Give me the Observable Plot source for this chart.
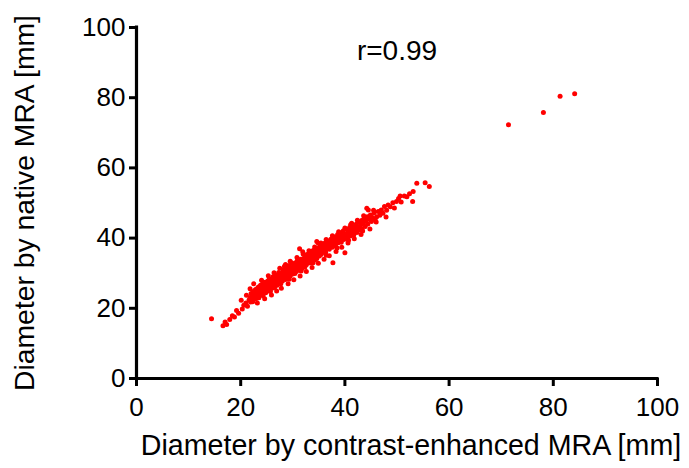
<!DOCTYPE html>
<html>
<head>
<meta charset="utf-8">
<script src="https://cdn.jsdelivr.net/npm/d3@7"></script>
<script src="https://cdn.jsdelivr.net/npm/@observablehq/plot@0.6"></script>
<style>
  html, body { margin: 0; padding: 0; background: #fff; }
</style>
</head>
<body>
<div id="chart"></div>
<script>
// Diameter by contrast-enhanced MRA [mm] (x) and by native MRA [mm] (y)
const ceMRA = [
  14.4,16.6,17.0,17.3,17.9,18.4,18.8,19.2,19.6,20.1,20.3,20.6,21.1,21.0,21.3,
  21.6,21.8,21.9,22.0,22.1,22.2,22.3,22.4,22.5,22.6,22.7,22.8,22.9,23.0,23.0,23.1,23.2,23.3,23.4,23.5,23.5,23.6,23.7,23.8,23.9,24.0,24.0,24.1,24.2,24.3,24.3,24.4,24.5,24.6,24.7,24.8,24.8,24.9,
  25.0,25.1,25.1,25.2,25.3,25.4,25.5,25.5,25.6,25.7,25.8,25.9,26.0,26.0,26.1,26.2,26.3,26.4,26.5,26.5,26.6,26.7,26.8,26.9,27.0,27.0,27.1,27.2,27.3,27.4,27.5,27.6,27.7,27.8,27.9,28.0,28.0,28.1,28.2,28.3,28.4,28.5,28.6,28.7,28.8,28.9,
  29.0,29.0,29.1,29.2,29.3,29.4,29.5,29.6,29.7,29.8,29.9,30.0,30.0,30.1,30.2,30.3,30.4,30.5,30.6,30.7,30.8,30.9,31.0,31.1,31.2,31.3,31.3,31.4,31.5,31.6,31.7,31.9,31.8,32.0,32.1,32.2,32.3,32.4,32.5,32.6,32.7,32.8,32.9,33.0,33.1,33.2,
  33.3,33.4,33.5,33.6,33.7,33.8,33.9,34.0,34.1,34.2,34.3,34.4,34.6,34.5,34.6,34.7,34.8,34.9,35.0,35.1,35.2,35.3,35.4,35.5,35.6,35.8,35.9,36.0,36.1,36.2,36.3,36.5,36.6,36.7,36.8,37.0,37.1,37.2,37.3,37.5,37.7,37.6,37.8,37.9,38.0,
  38.1,38.2,38.3,38.4,38.6,38.7,38.8,38.9,39.0,39.2,39.3,39.4,39.5,39.7,39.8,40.0,39.9,40.1,40.2,40.4,40.5,40.6,40.8,40.9,41.0,41.2,41.3,41.4,41.6,41.7,41.9,42.0,42.2,42.3,42.5,42.7,42.8,
  43.0,43.2,43.3,43.5,43.7,43.9,44.0,44.2,44.3,44.5,44.4,44.6,44.9,45.1,45.3,45.6,45.8,46.1,46.4,46.7,47.0,47.3,47.6,48.0,48.3,
  48.7,49.2,49.9,50.3,50.8,51.4,51.9,52.4,53.0,53.1,53.8,55.4,56.2,
  71.4,78.1,81.3,84.1,
  22.5,23.2,21.8,24.0,24.6,25.3,25.9,26.4,26.9,27.5,27.8,28.6,29.1,29.5,30.2,30.8,31.4,32.0,32.6,33.1,33.7,34.2,34.9,35.4,36.0,36.4,37.0,37.6,38.3,38.8,39.4,40.0,40.6,41.1,41.8,42.4,43.1,43.6,44.8,45.5,
  23.3,24.2,25.6,26.3,27.2,28.4,29.3,30.6,31.6,32.8,33.9,35.1,36.4,37.4,38.5,39.6,40.7,42.1,43.4,44.7,46.0,46.9,47.9,49.5,50.6
];
const nativeMRA = [
  17.0,15.0,16.1,15.4,16.8,17.9,17.5,19.4,18.6,22.3,19.8,20.9,23.7,21.5,20.6,
  22.4,23.1,21.8,24.2,22.9,23.6,21.9,24.8,23.3,22.6,24.1,25.3,23.7,22.8,24.6,25.6,23.4,24.0,26.1,24.9,23.0,25.4,24.3,26.6,25.0,23.9,25.8,24.6,27.0,25.3,23.6,26.2,24.8,25.9,27.4,24.4,26.6,25.5,
  27.1,26.0,24.9,27.8,26.5,25.4,27.3,28.4,26.1,24.8,27.0,28.0,26.6,25.7,27.6,29.0,26.9,28.2,25.9,27.5,28.7,27.1,29.4,28.0,26.6,27.9,29.1,28.4,30.2,27.4,28.9,29.6,27.0,28.6,30.0,29.2,27.8,31.0,28.8,29.9,32.0,29.3,28.2,30.6,29.6,31.3,
  30.1,28.9,31.0,29.5,32.2,30.6,29.2,31.4,30.2,32.9,31.0,29.8,31.7,30.6,32.4,31.2,29.9,33.0,31.6,30.5,32.1,33.6,31.3,32.6,30.9,37.0,33.2,31.9,34.0,32.6,31.3,36.1,33.3,32.0,34.2,33.0,31.7,34.8,33.5,32.4,35.3,33.9,32.9,34.6,33.3,35.7,
  34.1,32.9,35.0,34.3,36.3,33.6,35.3,34.4,36.6,35.0,33.8,36.0,39.0,35.4,34.2,36.8,35.7,38.5,36.1,34.9,37.2,36.4,35.3,37.6,36.7,35.9,37.9,36.9,38.5,37.3,36.0,38.0,37.0,39.2,38.1,36.8,38.6,37.6,39.7,38.4,33.0,37.4,39.3,38.2,40.3,
  39.0,37.8,40.0,39.4,41.0,38.7,40.2,39.3,41.5,40.0,38.8,41.0,40.4,42.1,39.6,35.8,41.2,40.5,42.6,41.0,39.9,42.0,41.3,43.0,40.6,42.3,44.2,41.6,42.8,40.9,43.4,42.1,44.0,41.6,43.0,44.5,42.3,
  43.6,45.0,42.6,44.2,45.6,43.3,44.8,48.5,46.1,48.0,44.0,45.4,46.6,44.7,45.9,47.2,45.3,46.1,47.6,46.5,48.0,47.1,49.0,47.9,49.4,
  48.9,50.1,50.4,51.3,50.3,52.0,51.8,52.6,50.4,53.3,55.6,55.8,54.7,
  72.3,75.8,80.4,81.1,
  27.0,21.5,25.6,28.0,22.7,29.3,23.8,30.1,24.9,31.4,25.7,32.5,27.0,33.4,28.1,34.5,29.2,35.4,30.5,36.4,31.6,37.5,32.8,38.6,34.0,39.6,35.0,40.7,36.2,41.8,37.4,42.9,38.6,43.8,39.8,45.1,41.0,46.4,42.6,47.9,
  25.5,26.4,25.2,28.5,26.9,30.8,28.3,32.8,30.6,34.7,33.0,37.4,35.1,38.9,37.2,41.6,39.4,43.2,42.0,45.8,44.6,47.8,46.0,48.6,52.0
];
const xTicks = [0, 20, 40, 60, 80, 100];
const yTicks = [0, 20, 40, 60, 80, 100];
const xLabel = "Diameter by contrast-enhanced MRA [mm]";
const yLabel = "Diameter by native MRA [mm]";
const annotation = "r=0.99";

const points = ceMRA.map((x, i) => ({x, y: nativeMRA[i]}));

const chart = Plot.plot({
  width: 689,
  height: 468,
  marginLeft: 136,
  marginRight: 32,
  marginTop: 27,
  marginBottom: 90,
  style: {fontFamily: "'Liberation Sans', Arial, Helvetica, sans-serif", color: "#000", background: "#fff"},
  x: {domain: [0, 100]},
  y: {domain: [0, 100]},
  marks: [
    Plot.axisX({ticks: xTicks, tickSize: 8, tickPadding: 11, strokeWidth: 3, fontSize: 26, label: null}),
    Plot.axisY({ticks: yTicks, tickSize: 7, tickPadding: 4, strokeWidth: 3, fontSize: 26, label: null}),
    Plot.ruleX([0], {strokeWidth: 3.2, stroke: "#000", strokeLinecap: "square"}),
    Plot.ruleY([0], {strokeWidth: 3.2, stroke: "#000", strokeLinecap: "square"}),
    Plot.dot(points, {x: "x", y: "y", r: 2.5, fill: "#ff0000", stroke: null}),
    Plot.text([annotation], {frameAnchor: "top", dy: 24, lineAnchor: "middle", fontSize: 28, fill: "#000"}),
    Plot.text([xLabel], {frameAnchor: "bottom", dy: 67, dx: 14, lineAnchor: "middle", fontSize: 28.6, fill: "#000"}),
    Plot.text([yLabel], {frameAnchor: "left", dx: -112, rotate: -90, lineAnchor: "middle", textAnchor: "middle", fontSize: 28.3, fill: "#000"})
  ]
});
document.getElementById("chart").appendChild(chart);
</script>
</body>
</html>
